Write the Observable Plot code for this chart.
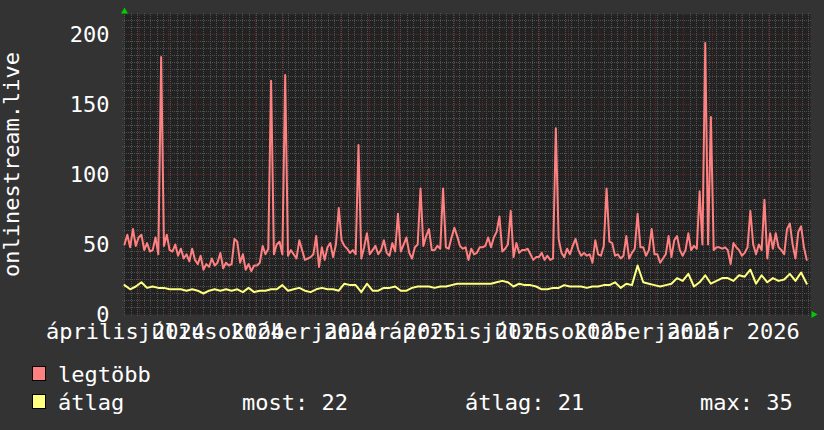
<!DOCTYPE html>
<html>
<head>
<meta charset="utf-8">
<script src="https://cdn.jsdelivr.net/npm/d3@7"></script>
<script src="https://cdn.jsdelivr.net/npm/@observablehq/plot@0.6"></script>
<style>
  html, body { margin: 0; padding: 0; background: #333333; }
  #wrap { position: relative; width: 824px; height: 430px; background: #333333; overflow: hidden; }
  #legend { display: block; }
</style>
</head>
<body>
<div id="wrap"><div id="chart"></div><div id="legend"></div></div>
<script>
// ---- data ----
const startDate = "2024-04-15";
const endDate = "2026-04-15";
const maxStepDays = 3;   // "legtöbb" samples, one every 3 days
const avgStepDays = 6;   // "átlag" samples, one every 6 days

const maxValues = [
  50,57,48,61,49,55,57,46,51,45, 46,55,43,184,49,57,46,45,50,42,
  47,40,43,38,47,39,36,42,32,36, 34,40,35,37,44,33,37,35,36,54,
  52,37,43,32,36,31,35,35,37,49, 43,47,167,43,50,52,43,171,42,46,
  43,40,53,46,39,40,41,43,56,34, 48,39,48,51,41,50,76,53,49,47,
  44,46,43,121,40,48,58,43,46,49, 43,46,53,44,42,51,45,72,45,50,
  55,44,40,48,50,90,49,56,61,46, 46,49,47,90,48,47,55,62,56,49,
  47,48,39,47,43,44,48,48,49,55, 48,55,59,70,45,47,50,74,41,51,
  44,46,46,47,43,39,41,41,44,39, 42,39,40,133,54,44,41,47,43,49,
  54,46,42,44,42,43,37,53,43,42, 49,90,52,51,42,43,40,42,56,40,
  44,47,72,48,48,42,46,61,43,43, 37,40,43,56,41,53,56,46,42,46,
  58,46,49,47,88,50,194,50,141,46, 48,48,47,48,46,36,51,48,46,42,
  44,48,74,50,43,50,46,82,40,58, 47,58,48,46,43,61,65,50,40,59,
  63,48,39
];

const avgValues = [
  21,18,20,23,19,20,19,19,18,18, 18,17,18,17,15,17,18,17,18,17,
  18,16,19,16,17,17,18,18,21,17, 18,19,17,16,18,19,18,18,17,22,
  21,21,16,22,17,17,19,19,20,17, 17,19,20,20,20,19,20,20,21,22,
  22,22,22,22,22,22,23,24,23,20, 22,21,21,20,18,18,19,19,21,20,
  20,20,19,20,20,21,21,23,19,22, 21,35,23,22,21,20,21,22,26,24,
  29,20,23,28,22,24,26,26,24,28, 27,32,22,28,23,26,24,25,29,24,
  30,22
];

const yTicks = [0, 50, 100, 150, 200];
const yMax = 214.3;
const yMinorStep = 5;
const xTickDates = ["2024-04-16","2024-07-16","2024-10-16","2025-01-16","2025-04-16","2025-07-16","2025-10-16","2026-01-16"];
const xTickLabels = ["április 2024","július 2024","október 2024","január 2025","április 2025","július 2025","október 2025","január 2026"];
const yAxisTitle = "onlinestream.live";
const seriesNames = ["legtöbb", "átlag"];
const seriesColors = ["#ff8080", "#ffff80"];
const statLabels = ["most: 22", "átlag: 21", "max: 35"];

// ---- build ----
const DAY = 864e5;
const start = new Date(startDate + "T00:00:00Z");
const end = new Date(endDate + "T00:00:00Z");
const maxData = maxValues.map((v, i) => ({date: new Date(+start + i * maxStepDays * DAY), value: v}));
const avgData = avgValues.map((v, i) => ({date: new Date(+start + i * avgStepDays * DAY), value: v}));

const monthLines = d3.utcMonth.range(start, end);
const weekLines = d3.utcMonday.range(start, end).filter(d => d.getUTCDate() !== 1);
const majorY = yTicks.filter(v => v > 0);
const minorY = d3.range(yMinorStep, yMax, yMinorStep).filter(v => v % 50 !== 0);
const tickLabelMap = new Map(xTickDates.map((d, i) => [+new Date(d + "T00:00:00Z"), xTickLabels[i]]));
const xTicks = xTickDates.map(d => new Date(d + "T00:00:00Z"));

const ext = 1.45;                      // grid overshoot (y units)
const xExt0 = new Date(+start - 2.1 * DAY);
const xExt1 = new Date(+end + 2.1 * DAY);
const minorColor = "#505050";
const majorColor = "#5e2828";
const font = "DejaVu Sans Mono";
const gridStyle = {strokeWidth: 1, strokeDasharray: "1,1", shapeRendering: "crispEdges"};

const chart = Plot.plot({
  width: 824,
  height: 345,
  marginLeft: 124,
  marginRight: 14,
  marginTop: 14,
  marginBottom: 31,
  style: {background: "#333333", color: "#ffffff", fontFamily: font, fontSize: "22px", overflow: "visible"},
  x: {type: "utc", domain: [start, end], label: null},
  y: {domain: [0, yMax], label: null},
  marks: [
    Plot.frame({fill: "#222222", stroke: null}),
    Plot.ruleY(minorY, {x1: xExt0, x2: xExt1, stroke: minorColor, ...gridStyle}),
    Plot.ruleX(weekLines, {y1: -ext, y2: yMax + ext, stroke: minorColor, ...gridStyle}),
    Plot.ruleY(majorY, {x1: xExt0, x2: xExt1, stroke: majorColor, ...gridStyle}),
    Plot.ruleX(monthLines, {y1: -ext, y2: yMax + ext, stroke: majorColor, ...gridStyle}),
    Plot.axisY({ticks: yTicks, tickSize: 0, tickPadding: 15, label: null, fill: "#ffffff", fontSize: 22}),
    Plot.axisX({ticks: xTicks, tickFormat: d => tickLabelMap.get(+d), tickSize: 0, tickPadding: 9, label: null, fill: "#ffffff", fontSize: 22}),
    Plot.line(avgData, {x: "date", y: "value", stroke: seriesColors[1], strokeWidth: 2, curve: "linear"}),
    Plot.line(maxData, {x: "date", y: "value", stroke: seriesColors[0], strokeWidth: 2, curve: "linear"}),
    Plot.dot([{x: start, y: yMax + 2.2}], {x: "x", y: "y", symbol: "triangle", r: 2.6, fill: "#00cc00", stroke: null}),
    Plot.dot([{x: new Date(+end + 3.2 * DAY), y: 0}], {x: "x", y: "y", symbol: "triangle", r: 2.6, fill: "#00cc00", stroke: null, rotate: 90}),
    Plot.text([yAxisTitle], {text: d => d, frameAnchor: "left", dx: -112.5, rotate: -90, textAnchor: "middle", lineAnchor: "middle", fill: "#ffffff", fontSize: 22})
  ]
});
document.getElementById("chart").appendChild(chart);

// ---- legend (below the chart) ----
const lg = d3.select("#legend").append("svg")
  .attr("width", 824).attr("height", 85)
  .style("display", "block")
  .style("font-family", font)
  .style("font-size", "22px");
const rowBase = [37, 65];
seriesNames.forEach((name, i) => {
  lg.append("rect").attr("x", 32.5).attr("y", rowBase[i] - 15.5).attr("width", 13).attr("height", 14)
    .attr("fill", seriesColors[i]).attr("stroke", "#000").attr("stroke-width", 1);
  lg.append("text").attr("x", 58).attr("y", rowBase[i]).attr("fill", "#fff").text(name);
});
const statX = [242, 465, 700];
statLabels.forEach((s, i) => {
  lg.append("text").attr("x", statX[i]).attr("y", rowBase[1]).attr("fill", "#fff").attr("xml:space", "preserve").text(s);
});
</script>
</body>
</html>
